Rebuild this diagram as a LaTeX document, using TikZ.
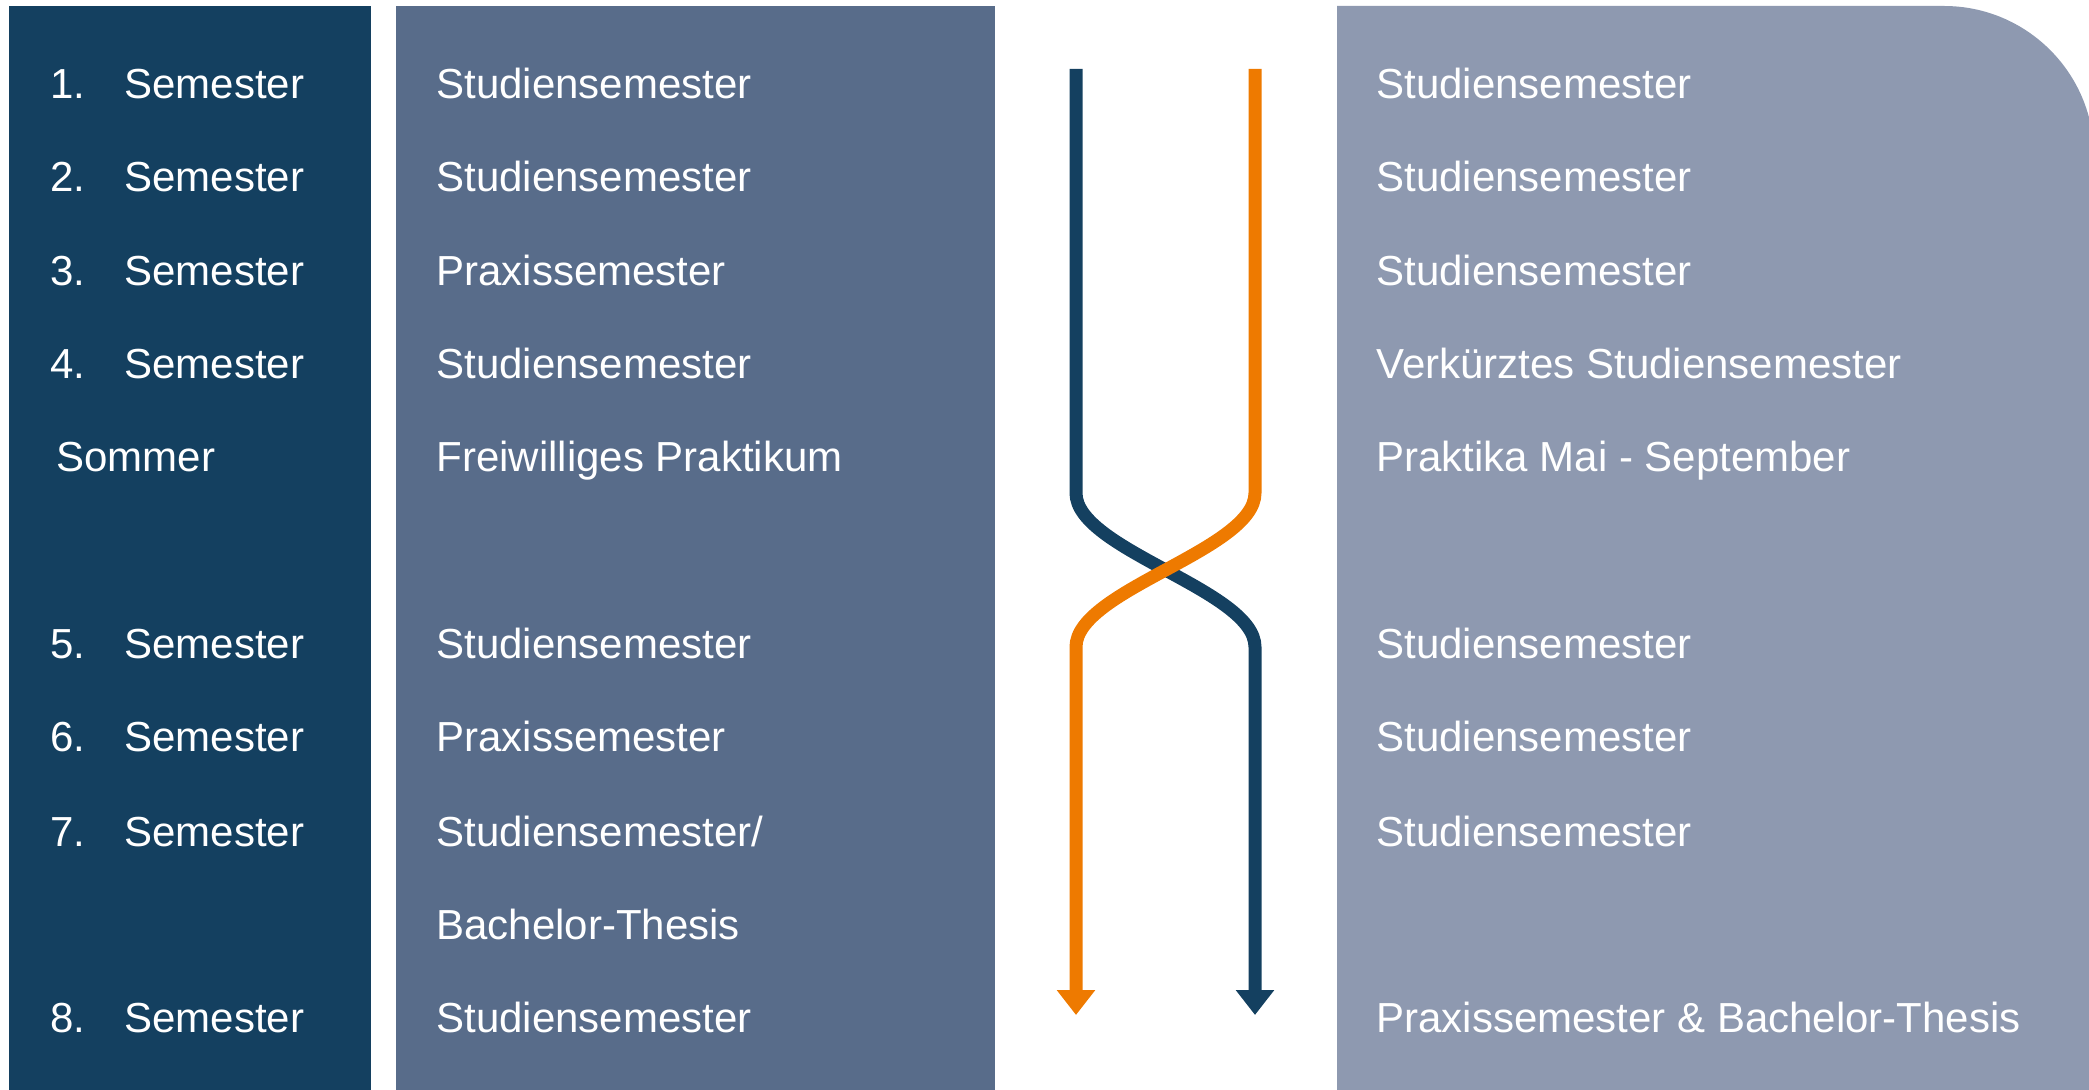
\documentclass[tikz,border=0pt]{standalone}
\usepackage{fontspec}
\setmainfont{Liberation Sans}
\usetikzlibrary{arrows.meta}
\definecolor{navy}{HTML}{144060}
\definecolor{slate}{HTML}{586C8A}
\definecolor{mist}{HTML}{8E99B0}
\definecolor{amber}{HTML}{EE7A00}

\begin{document}
\begin{tikzpicture}[x=0.5pt,y=-0.5pt,
        lbl/.style={anchor=base west,inner sep=0pt,text=white,font=\fontsize{21pt}{25pt}\selectfont},
        twist/.style={line width=6.5pt,-{Triangle[width=18.5pt,length=12.5pt]}}]
            \useasboundingbox (0,0) rectangle (2089,1090);
            % panels
            \fill [navy]  (9,6) rectangle (371,1090);
            \fill [slate] (396,6) rectangle (995,1090);
            \fill [mist]  (1337,1090) -- (1337,6) -- (1944,6) arc [start angle=90,end angle=0,radius=75pt] -- (2094,1090) -- cycle;
            % left column
            \node[lbl] (n1) at (50,99)   {1.};  \node[lbl] (s1) at (124,99)   {Semester};
            \node[lbl] (n2) at (50,192)  {2.};  \node[lbl] (s2) at (124,192)  {Semester};
            \node[lbl] (n3) at (50,286)  {3.};  \node[lbl] (s3) at (124,286)  {Semester};
            \node[lbl] (n4) at (50,379)  {4.};  \node[lbl] (s4) at (124,379)  {Semester};
            \node[lbl] (som) at (56,472) {Sommer};
            \node[lbl] (n5) at (50,659)  {5.};  \node[lbl] (s5) at (124,659)  {Semester};
            \node[lbl] (n6) at (50,752)  {6.};  \node[lbl] (s6) at (124,752)  {Semester};
            \node[lbl] (n7) at (50,846)  {7.};  \node[lbl] (s7) at (124,846)  {Semester};
            \node[lbl] (n8) at (50,1032) {8.};  \node[lbl] (s8) at (124,1032) {Semester};
            % middle column
            \node[lbl] (m1) at (436,99)   {Studiensemester};
            \node[lbl] (m2) at (436,192)  {Studiensemester};
            \node[lbl] (m3) at (436,286)  {Praxissemester};
            \node[lbl] (m4) at (436,379)  {Studiensemester};
            \node[lbl] (mso) at (436,472) {Freiwilliges Praktikum};
            \node[lbl] (m5) at (436,659)  {Studiensemester};
            \node[lbl] (m6) at (436,752)  {Praxissemester};
            \node[lbl] (m7) at (436,846)  {Studiensemester/};
            \node[lbl] (mba) at (436,939) {Bachelor-Thesis};
            \node[lbl] (m8) at (436,1032) {Studiensemester};
            % right column
            \node[lbl] (r1) at (1376,99)   {Studiensemester};
            \node[lbl] (r2) at (1376,192)  {Studiensemester};
            \node[lbl] (r3) at (1376,286)  {Studiensemester};
            \node[lbl] (r4) at (1376,379)  {Verkürztes Studiensemester};
            \node[lbl] (rso) at (1376,472) {Praktika Mai - September};
            \node[lbl] (r5) at (1376,659)  {Studiensemester};
            \node[lbl] (r6) at (1376,752)  {Studiensemester};
            \node[lbl] (r7) at (1376,846)  {Studiensemester};
            \node[lbl] (r8) at (1376,1032) {Praxissemester \& Bachelor-Thesis};
            % crossing arrows
            \coordinate (navyA) at (1076,69);   \coordinate (navyB) at (1255,1015);
            \coordinate (amberA) at (1255,69);  \coordinate (amberB) at (1076,1015);
            \draw [twist,navy]  (navyA) -- (1076,493) .. controls (1076,550) and (1255,590) .. (1255,647) -- (navyB);
            \draw [twist,amber] (amberA) -- (1255,493) .. controls (1255,550) and (1076,590) .. (1076,647) -- (amberB);
        \end{tikzpicture}
\end{document}
